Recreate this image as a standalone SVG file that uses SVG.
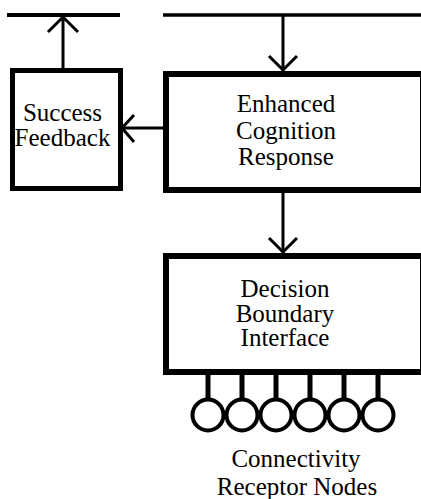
<svg xmlns="http://www.w3.org/2000/svg" width="421" height="499" viewBox="0 0 421 499">
<style>
.box{fill:#fff;stroke:#000}
.lbl{font-family:"Liberation Serif","Times New Roman",serif;font-size:25px;fill:#000;text-anchor:middle}
.ln{stroke:#000;fill:none;stroke-width:3}
.bar{stroke:#000;stroke-width:4}
.stem{stroke:#000;stroke-width:5}
.node{fill:#fff;stroke:#000;stroke-width:4}
</style>
<rect width="421" height="499" fill="#fff"/>
<g id="connectors">
<line class="bar" x1="7" y1="15" x2="120" y2="15"/>
<line class="bar" x1="163" y1="15" x2="421" y2="15" style="stroke-width:3.5"/>
<line class="ln" x1="63" y1="15" x2="63" y2="68"/>
<polyline class="ln" points="48,32 63,17 78,32"/>
<line class="ln" x1="283" y1="15" x2="283" y2="71"/>
<polyline class="ln" points="269,56 283,70 297,56"/>
<line class="ln" x1="123" y1="128" x2="163" y2="128"/>
<polyline class="ln" points="134,115 122,128 134,142"/>
<line class="ln" x1="283" y1="193" x2="283" y2="253"/>
<polyline class="ln" points="269,238 283,252 297,238"/>
</g>
<g id="success-feedback">
<rect class="box" x="12.5" y="70.5" width="108" height="118" stroke-width="5"/>
<text class="lbl" x="62.5" y="120.5">Success</text>
<text class="lbl" x="62.5" y="145.5">Feedback</text>
</g>
<g id="enhanced-cognition">
<rect class="box" x="166" y="74" width="257" height="116" stroke-width="6"/>
<text class="lbl" x="286" y="112">Enhanced</text>
<text class="lbl" x="286" y="138.5">Cognition</text>
<text class="lbl" x="286" y="165">Response</text>
</g>
<g id="decision-boundary">
<rect class="box" x="166" y="256" width="257" height="116" stroke-width="6"/>
<text class="lbl" x="285" y="297">Decision</text>
<text class="lbl" x="285" y="321.5">Boundary</text>
<text class="lbl" x="285" y="346">Interface</text>
</g>
<g id="receptor-nodes">
<line class="stem" x1="208" y1="375" x2="208" y2="400"/>
<line class="stem" x1="242" y1="375" x2="242" y2="400"/>
<line class="stem" x1="276" y1="375" x2="276" y2="400"/>
<line class="stem" x1="310" y1="375" x2="310" y2="400"/>
<line class="stem" x1="344" y1="375" x2="344" y2="400"/>
<line class="stem" x1="378" y1="375" x2="378" y2="400"/>
<circle class="node" cx="208" cy="415" r="15.5"/>
<circle class="node" cx="242" cy="415" r="15.5"/>
<circle class="node" cx="276" cy="415" r="15.5"/>
<circle class="node" cx="310" cy="415" r="15.5"/>
<circle class="node" cx="344" cy="415" r="15.5"/>
<circle class="node" cx="378" cy="415" r="15.5"/>
<text class="lbl" x="296" y="467">Connectivity</text>
<text class="lbl" x="297" y="495">Receptor Nodes</text>
</g>
</svg>
